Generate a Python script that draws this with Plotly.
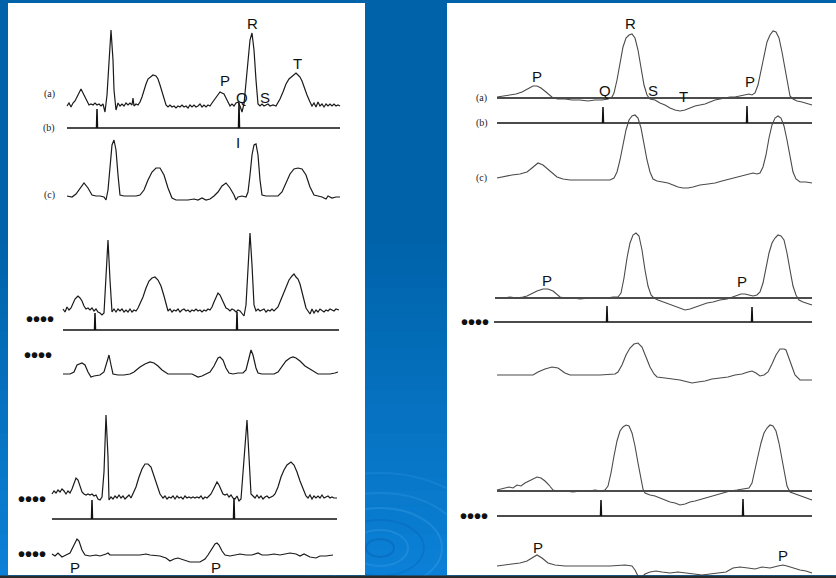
import plotly.graph_objects as go

W, H = 836, 578

# ---------------- DATA (time in px-scale units, amplitude in px-scale units, + = up) ----------------
# Left panel, record 1
left1_a = [(7,-1),(9,2),(11,-2),(13,2),(15,4),(17,8),(19,13),(21,16),(23,12),(25,8),(27,3),(29,0),(31,1),(33,0),
           (35,2),(37,0),(39,1),(41,-1),(43,1),(45,-7),(47,10),(49,45),(51,75),(53,45),(54,15),(56,-5),(58,2),(60,-1),
           (62,1),(64,-1),(66,2),(68,0),(70,2),(72,0),(73,7),(74,-1),(76,1),(78,0),(80,3),(82,8),(84,15),(86,21),(88,26),
           (90,28),(93,30),(96,29),(98,26),(100,20),(102,13),(104,6),(106,0),(108,-2),(110,0),(112,-2),(114,-1),(116,-3),
           (118,-1),(120,-2),(122,0),(124,-2),(126,-1),(128,-3),(130,0),(132,-2),(134,0),(136,-2),(138,-1),(140,1),
           (142,-2),(144,0),(146,-2),(148,0),(150,-1),(152,2),(154,5),(156,8),(158,10),(160,13),(162,12),(164,11),
           (166,7),(168,2),(170,-1),(172,1),(174,-1),(176,2),(178,3),(180,-1),(182,-7),(184,1),(186,20),(188,45),
           (190,65),(192,72),(194,55),(196,25),(198,1),(200,-1),(202,1),(204,-1),(206,0),(208,1),(210,-1),(213,0),
           (216,-1),(218,2),(220,6),(223,13),(226,21),(229,26),(232,29),(234,31),(236,32),(238,30),(240,28),(242,24),
           (244,18),(247,10),(250,3),(252,-1),(254,2),(256,-2),(258,3),(260,-1),(262,1),(264,-2),(266,1),(268,-1),
           (270,1),(272,-1),(274,1),(276,-1),(278,0),(280,-1)]
left1_b_span = (7, 280)
left1_b_spikes = [(37, 19), (179, 25)]
left1_c = [(7,0),(12,-1),(16,2),(20,8),(24,13),(28,8),(32,1),(36,0),(40,0),(44,-1),(46,-4),(48,6),(50,31),(52,51),
           (54,56),(56,46),(58,21),(60,1),(64,0),(70,0),(76,0),(80,1),(84,6),(88,16),(92,24),(96,28),(100,28),(104,21),
           (108,8),(112,-2),(116,-4),(122,-4),(128,-4),(134,-3),(138,-4),(142,-2),(146,-4),(150,-3),(154,0),(158,4),
           (162,10),(166,13),(170,8),(174,1),(176,-4),(178,-1),(182,0),(186,-1),(188,4),(190,21),(192,41),(194,51),
           (196,52),(198,41),(200,16),(202,1),(206,0),(212,0),(218,0),(222,4),(226,13),(230,22),(234,27),(238,28),
           (242,27),(246,21),(250,9),(254,1),(258,0),(262,-1),(266,-3),(268,0),(272,-2),(276,-1),(280,-1)]

# Left panel, record 2
left2_a = [(3,1),(5,-2),(7,3),(9,0),(11,2),(13,7),(15,11),(17,13),(18,14),(20,12),(22,9),(24,4),(26,1),(28,2),
           (30,0),(32,2),(34,-1),(36,1),(38,-2),(40,-3),(42,-5),(44,-3),(46,30),(48,70),(50,30),(52,-2),(54,1),
           (56,-2),(58,1),(60,-1),(62,1),(64,-2),(66,0),(68,-2),(70,1),(72,-2),(74,0),(76,-1),(78,2),(80,6),(83,13),
           (86,22),(89,29),(92,32),(95,33),(98,30),(101,24),(104,14),(106,5),(108,-1),(110,1),(112,-2),(114,0),
           (116,-1),(118,1),(120,-2),(122,0),(124,1),(126,-1),(128,0),(130,-2),(132,0),(134,-1),(136,1),(138,-1),
           (140,0),(142,-2),(144,0),(146,-1),(148,1),(150,0),(152,3),(154,8),(156,13),(158,17),(160,15),(162,11),
           (164,6),(166,2),(168,1),(170,-1),(172,1),(174,0),(176,-2),(178,0),(180,-1),(182,-3),(184,-6),(186,5),
           (188,40),(190,77),(192,45),(194,5),(196,-1),(198,1),(200,-1),(202,0),(204,1),(206,-2),(208,0),(210,-1),
           (212,1),(214,-1),(216,1),(218,3),(220,8),(223,16),(226,24),(229,30),(232,34),(234,36),(236,33),(238,31),
           (240,26),(242,18),(244,9),(246,2),(248,-1),(250,-4),(252,1),(254,-3),(256,0),(258,-2),(260,1),(262,-1),
           (264,-2),(266,0),(268,-1),(270,1),(272,0),(274,-1),(276,1),(279,0)]
left2_b_span = (3, 279)
left2_b_spikes = [(35, 17), (177, 18)]
left2_c = [(3,0),(10,0),(14,2),(17,9),(22,11),(25,9),(28,2),(31,-3),(34,-2),(40,-1),(44,2),(46,9),(49,19),(51,9),
           (53,0),(58,-1),(64,-1),(70,0),(74,2),(80,7),(85,10),(90,12),(94,11),(98,8),(102,4),(108,0),(116,0),
           (125,0),(132,0),(138,-3),(142,-2),(146,0),(150,2),(154,8),(158,16),(160,17),(163,14),(166,6),(169,1),
           (173,0),(178,1),(183,1),(186,4),(189,16),(191,24),(193,19),(196,6),(198,1),(202,0),(210,0),(214,0),
           (218,2),(222,8),(226,13),(230,16),(233,17),(236,16),(240,13),(245,8),(250,5),(254,2),(258,0),(264,0),
           (270,0),(275,1),(278,2)]

# Left panel, record 3
left3_a = [(-8,3),(-6,6),(-4,4),(-2,7),(0,5),(2,8),(4,6),(6,3),(8,6),(10,4),(12,8),(14,14),(16,19),(18,17),(20,12),
           (22,5),(24,3),(26,2),(28,3),(30,2),(32,3),(34,1),(36,2),(38,-2),(40,-3),(42,0),(44,25),(46,82),(48,40),
           (49,-3),(51,0),(53,-2),(55,1),(57,-1),(59,2),(61,-1),(63,1),(65,-2),(67,0),(69,2),(71,-1),(73,3),(76,10),
           (79,20),(82,28),(85,33),(88,33),(91,30),(94,22),(97,12),(100,3),(103,-1),(105,1),(107,-2),(109,0),
           (111,-1),(113,1),(115,-2),(117,1),(119,-1),(121,0),(123,-2),(125,1),(127,-1),(129,0),(131,-1),(133,0),
           (135,-1),(137,0),(139,-1),(141,1),(143,-2),(145,0),(147,-1),(149,1),(151,3),(154,9),(157,15),(159,12),
           (161,7),(163,3),(165,2),(167,3),(169,0),(171,2),(173,-1),(175,-2),(177,1),(179,-4),(181,-2),(183,25),
           (185,60),(187,77),(189,40),(191,3),(193,1),(195,-1),(197,2),(199,-1),(201,1),(203,-2),(205,0),(207,1),
           (209,-1),(211,0),(213,1),(215,3),(218,10),(221,20),(224,27),(227,32),(231,35),(234,32),(237,25),(240,16),
           (243,8),(246,1),(248,-1),(250,2),(252,-2),(254,1),(256,-1),(258,1),(260,-1),(262,2),(264,-1),(266,0),
           (268,1),(270,-1),(272,0),(274,-1),(277,-1)]
left3_b_span = (-8, 277)
left3_b_spikes = [(32, 19), (174, 21)]
left3_c = [(-8,0),(-5,-2),(-2,1),(2,-3),(6,-1),(10,1),(13,7),(16,14),(17,15),(19,13),(22,4),(25,-1),(30,-2),(36,-1),
           (40,-2),(46,0),(48,1),(50,-1),(58,-1),(70,-1),(80,-1),(86,0),(90,-1),(100,-2),(106,-4),(110,-7),(114,-5),
           (118,-4),(124,-6),(130,-8),(140,-8),(145,-5),(148,-1),(152,6),(155,10),(157,11),(159,9),(162,3),(165,-1),
           (170,-2),(176,-1),(180,0),(186,-1),(192,-1),(198,1),(202,-1),(208,-1),(214,0),(220,-1),(226,0),(230,1),
           (236,0),(240,-2),(244,0),(250,-3),(256,-4),(260,-2),(266,-2),(273,-1)]

# Right panel, record 1
right1_a = [(2,1),(8,2),(15,3),(21,4),(27,6),(33,9),(38,12),(42,12),(46,10),(51,6),(55,2),(58,0),(63,-1),(70,-1),
            (77,-2),(85,-2),(93,-3),(100,-2),(107,-2),(113,-1),(117,1),(119,5),(122,18),(125,35),(128,51),(131,60),
            (134,63),(137,64),(140,60),(143,48),(146,30),(149,13),(152,3),(155,-1),(160,-2),(165,-5),(170,-7),
            (175,-10),(180,-12),(185,-13),(190,-12),(195,-10),(200,-8),(205,-7),(210,-6),(215,-4),(220,-2),(225,-1),
            (230,0),(235,1),(240,1),(245,2),(250,3),(254,4),(257,3),(260,5),(263,13),(266,28),(269,43),(272,56),
            (275,63),(278,67),(281,66),(284,60),(287,46),(290,28),(293,10),(295,2),(298,-1),(302,-3),(307,-4),
            (311,-5),(315,-6),(317,-7)]
right1_a_span = (2, 317)
right1_b_span = (2, 317)
right1_b_spikes = [(108, 16), (252, 17)]
right1_c = [(2,2),(10,4),(17,5),(25,6),(32,8),(37,12),(43,17),(48,15),(55,9),(62,3),(68,1),(75,0),(85,0),(95,0),
            (105,0),(115,0),(119,2),(122,8),(125,20),(128,35),(131,50),(134,60),(137,64),(140,65),(143,62),(146,52),
            (149,35),(152,20),(155,8),(158,1),(162,-1),(167,-2),(173,-3),(178,-5),(183,-7),(188,-8),(193,-8),
            (198,-7),(205,-5),(213,-4),(220,-3),(227,-1),(235,1),(243,3),(250,5),(255,6),(258,7),(262,6),(265,7),
            (268,13),(271,25),(274,42),(277,55),(280,62),(283,64),(286,62),(289,54),(292,40),(295,23),(298,8),
            (301,1),(305,-2),(311,-2),(317,-3)]

# Right panel, record 2
right2_a = [(0,0),(8,0),(15,1),(22,0),(28,1),(32,2),(36,4),(42,7),(48,9),(53,9),(58,7),(62,4),(65,1),(70,0),(78,0),
            (85,-1),(95,0),(105,0),(112,0),(118,1),(123,1),(126,5),(129,20),(132,40),(135,55),(138,63),(141,65),
            (144,62),(147,48),(150,28),(153,12),(156,3),(159,0),(163,-2),(168,-4),(173,-6),(178,-8),(184,-10),
            (190,-12),(195,-11),(200,-9),(206,-7),(212,-5),(218,-4),(225,-2),(232,-1),(238,1),(242,3),(246,4),
            (250,4),(254,3),(258,2),(262,3),(265,6),(268,15),(271,30),(274,45),(277,55),(280,60),(283,63),(286,62),
            (289,58),(292,45),(295,28),(298,12),(301,3),(304,-2),(308,-4),(312,-5),(317,-7)]
right2_a_span = (0, 317)
right2_b_span = (-1, 317)
right2_b_spikes = [(112, 16), (257, 15)]
right2_c = [(2,0),(15,0),(30,0),(38,0),(43,3),(50,6),(57,8),(63,7),(70,2),(75,0),(85,0),(95,0),(105,0),(120,1),
            (123,3),(127,10),(131,20),(135,27),(139,31),(143,32),(147,28),(151,18),(155,8),(159,1),(162,-2),
            (170,-3),(177,-4),(185,-5),(193,-7),(197,-8),(203,-7),(210,-6),(217,-4),(225,-3),(233,-2),(240,0),
            (247,1),(253,3),(257,4),(261,2),(265,-1),(269,0),(273,3),(277,11),(281,20),(285,26),(289,26),(291,25),
            (294,17),(297,7),(300,0),(305,-5),(311,-5),(317,-5)]

# Right panel, record 3
right3_a = [(2,1),(6,2),(10,3),(14,4),(18,3),(22,6),(26,5),(30,8),(34,10),(38,12),(42,14),(46,13),(50,10),(54,6),
            (58,1),(62,0),(70,0),(78,-1),(86,0),(94,0),(100,1),(106,0),(110,1),(113,5),(116,18),(119,35),(122,50),
            (125,60),(128,64),(131,66),(134,65),(137,58),(140,45),(143,28),(146,12),(148,2),(150,-2),(155,-4),
            (160,-5),(165,-7),(170,-9),(175,-11),(180,-12),(185,-14),(190,-13),(195,-11),(200,-10),(207,-8),
            (214,-6),(221,-4),(228,-2),(235,0),(242,1),(250,2),(254,3),(257,8),(260,20),(263,35),(266,48),(269,58),
            (272,63),(275,66),(278,65),(281,60),(284,48),(287,32),(290,15),(292,5),(295,-1),(300,-3),(305,-5),
            (310,-7),(317,-9)]
right3_a_span = (2, 317)
right3_b_span = (2, 317)
right3_b_spikes = [(106, 16), (248, 17)]
right3_c = [(2,0),(10,1),(17,2),(25,3),(32,5),(37,8),(42,11),(47,8),(53,3),(60,1),(70,0),(85,0),(100,0),(115,0),
            (130,1),(137,0),(140,-4),(143,-10),(146,-12),(150,-8),(155,-6),(161,-5),(167,-6),(175,-7),(183,-6),
            (191,-7),(199,-8),(207,-9),(215,-8),(223,-7),(231,-6),(238,-2),(245,-1),(253,-2),(260,-3),(267,-1),
            (275,-2),(283,0),(288,1),(292,0),(298,-2),(305,-4),(311,-5),(317,-7)]

# ---------------- LAYOUT CONFIG (positions / styles) ----------------
BLUE_TOP = (0, 99, 170)
BLUE_BOT = (12, 130, 216)
LEFT_X0, RIGHT_X0 = 60, 495          # px position of time 0 on each panel
LEFT_PANEL = (8, 3, 365, 575)
RIGHT_PANEL = (447, 3, 836, 575)

SIG_L = dict(color="#1a1a1a", width=1.2)
SIG_R = dict(color="#4a4a4a", width=1.1)
BASE = dict(color="#111111", width=1.5)

# strips: (panel, baseline px, kind, data, style)
strips = [
    ("L", 105, "sig", left1_a, SIG_L), ("L", 128, "spk", (left1_b_span, left1_b_spikes), BASE), ("L", 196, "sig", left1_c, SIG_L),
    ("L", 310, "sig", left2_a, SIG_L), ("L", 330, "spk", (left2_b_span, left2_b_spikes), BASE), ("L", 374, "sig", left2_c, SIG_L),
    ("L", 497, "sig", left3_a, SIG_L), ("L", 519, "spk", (left3_b_span, left3_b_spikes), BASE), ("L", 554, "sig", left3_c, SIG_L),
    ("R", 98, "ref", right1_a_span, BASE), ("R", 98, "sig", right1_a, SIG_R),
    ("R", 123, "spk", (right1_b_span, right1_b_spikes), BASE), ("R", 180, "sig", right1_c, SIG_R),
    ("R", 298, "ref", right2_a_span, BASE), ("R", 298, "sig", right2_a, SIG_R),
    ("R", 322, "spk", (right2_b_span, right2_b_spikes), BASE), ("R", 375, "sig", right2_c, SIG_R),
    ("R", 491, "ref", right3_a_span, BASE), ("R", 491, "sig", right3_a, SIG_R),
    ("R", 516, "spk", (right3_b_span, right3_b_spikes), BASE), ("R", 566, "sig", right3_c, SIG_R),
]

fig = go.Figure()
layout_axes = {}
for i, (panel, base, kind, data, style) in enumerate(strips):
    yname = "y" if i == 0 else f"y{i+1}"
    ykey = "yaxis" if i == 0 else f"yaxis{i+1}"
    ax = dict(range=[base - H, base], visible=False, fixedrange=True, domain=[0, 1])
    if i > 0:
        ax["overlaying"] = "y"
    layout_axes[ykey] = ax
    xname = "x" if panel == "L" else "x2"
    if kind == "sig":
        xs = [p[0] for p in data]
        ys = [p[1] for p in data]
    elif kind == "ref":
        xs = [data[0], data[1]]
        ys = [0, 0]
    else:
        (t0, t1), spikes = data
        xs, ys = [t0], [0]
        for t, h in spikes:
            xs += [t - 0.5, t, t + 0.5]
            ys += [0, h, 0]
        xs.append(t1)
        ys.append(0)
    fig.add_trace(go.Scatter(x=xs, y=ys, mode="lines", line=dict(style, shape="linear"),
                             xaxis=xname, yaxis=yname, hoverinfo="skip", showlegend=False))

# ---------------- background shapes ----------------
def px(x):
    return x / W

def py(y):
    return 1 - y / H

shapes = []
n_bands = 40
for k in range(n_bands):
    y0 = H * k / n_bands
    y1 = H * (k + 1) / n_bands
    f = max(0.0, (y0 - 230) / (H - 230))
    c = tuple(int(BLUE_TOP[j] + (BLUE_BOT[j] - BLUE_TOP[j]) * f) for j in range(3))
    shapes.append(dict(type="rect", xref="paper", yref="paper", x0=0, x1=1, y0=py(y1), y1=py(y0) + 0.001,
                       fillcolor=f"rgb{c}", line=dict(width=0), layer="below"))
# water ripple decoration
cx, cy = 380, 548
for rx, ry, col in [(14, 9, "rgba(0,70,150,0.25)"), (28, 18, "rgba(80,170,240,0.25)"), (44, 28, "rgba(0,80,160,0.2)"),
                    (62, 40, "rgba(90,180,245,0.22)"), (84, 55, "rgba(90,180,245,0.18)"), (110, 75, "rgba(90,180,245,0.15)")]:
    shapes.append(dict(type="circle", xref="paper", yref="paper", x0=px(cx - rx), x1=px(cx + rx),
                       y0=py(cy + ry), y1=py(cy - ry), line=dict(color=col, width=2), layer="below"))
for (x0, y0, x1, y1) in [LEFT_PANEL, RIGHT_PANEL]:
    shapes.append(dict(type="rect", xref="paper", yref="paper", x0=px(x0), x1=px(x1), y0=py(y1), y1=py(y0),
                       fillcolor="white", line=dict(width=0), layer="below"))
shapes.append(dict(type="rect", xref="paper", yref="paper", x0=0, x1=1, y0=0, y1=py(575.5),
                   fillcolor="#2b2b2b", line=dict(width=0), layer="above"))

# ---------------- text labels ----------------
wave_labels = [("P", 225, 80), ("Q", 242, 97), ("R", 252, 24), ("S", 265, 97), ("T", 297, 63), ("I", 238, 142),
               ("P", 75, 567), ("P", 216, 567),
               ("P", 537, 76), ("Q", 605, 91), ("R", 630, 24), ("S", 653, 91), ("T", 683, 96), ("P", 750, 81),
               ("P", 547, 280), ("P", 742, 282), ("P", 538, 547), ("P", 783, 555)]
row_labels = [("(a)", 49, 94), ("(b)", 49, 128), ("(c)", 49, 195),
              ("(a)", 482, 98), ("(b)", 482, 123), ("(c)", 482, 178)]
dot_labels = [(40, 319), (38, 355), (32, 499), (32, 554), (475, 322), (474, 516)]

ann = []
for t, x, y in wave_labels:
    ann.append(dict(text=t, x=px(x), y=py(y), xref="paper", yref="paper", showarrow=False,
                    xanchor="center", yanchor="middle",
                    font=dict(family="Liberation Sans, Arial", size=15, color="#111")))
for t, x, y in row_labels:
    ann.append(dict(text=t, x=px(x), y=py(y), xref="paper", yref="paper", showarrow=False,
                    xanchor="center", yanchor="middle",
                    font=dict(family="Liberation Serif, Times New Roman", size=10, color="#222")))
for x, y in dot_labels:
    ann.append(dict(text="<b>••••</b>", x=px(x), y=py(y), xref="paper", yref="paper", showarrow=False,
                    xanchor="center", yanchor="middle",
                    font=dict(family="Liberation Sans, Arial", size=20, color="#111")))

fig.update_layout(
    width=W, height=H, margin=dict(l=0, r=0, t=0, b=0), autosize=False,
    paper_bgcolor="rgb(0,99,170)", plot_bgcolor="rgba(0,0,0,0)", showlegend=False,
    xaxis=dict(range=[-LEFT_X0, W - LEFT_X0], visible=False, fixedrange=True, domain=[0, 1]),
    xaxis2=dict(range=[-RIGHT_X0, W - RIGHT_X0], visible=False, fixedrange=True, overlaying="x", domain=[0, 1]),
    shapes=shapes, annotations=ann, **layout_axes,
)
fig.write_html("out.html", config={"displayModeBar": False},
               post_script="document.body.style.margin='0';document.body.style.overflow='hidden';")
